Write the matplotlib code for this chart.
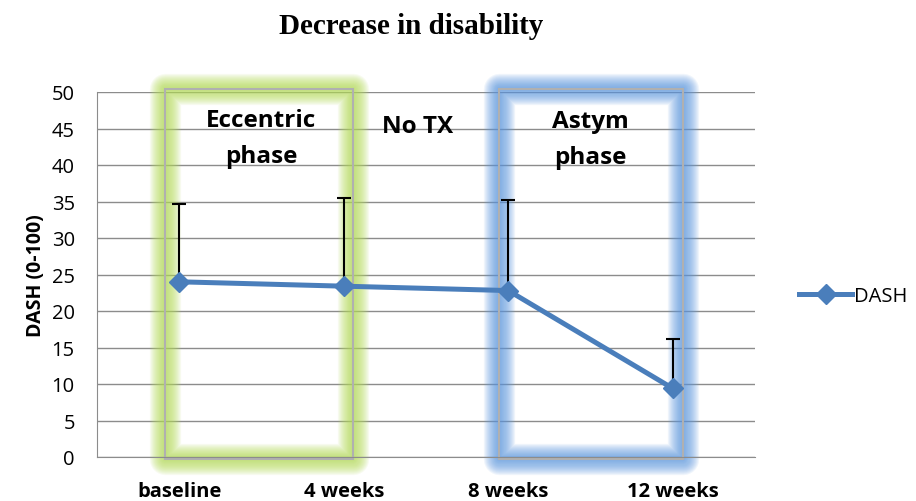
import matplotlib
matplotlib.use("Agg")
import matplotlib.pyplot as plt
from matplotlib.patches import Rectangle

categories = ["baseline", "4 weeks", "8 weeks", "12 weeks"]
dash_mean = [24.0, 23.4, 22.8, 9.4]
dash_err_upper = [10.7, 12.1, 12.4, 6.8]
phase_labels = ["Eccentric\nphase", "No TX", "Astym\nphase"]
yticks = list(range(0, 51, 5))

fig = plt.figure(figsize=(9.16, 5.02), dpi=100)
ax = fig.add_axes([97/916, 1-458/502, 658/916, 365/502])

body = ["Open Sans", "DejaVu Sans"]
x = list(range(len(categories)))

ax.set_xlim(-0.5, 3.5)
ax.set_ylim(0, 50)
ax.set_yticks(yticks)
ax.yaxis.grid(True, color="#8c8c8c", linewidth=1.0)
ax.set_axisbelow(True)
for s in ["top", "right"]:
    ax.spines[s].set_visible(False)
ax.spines["left"].set_color("#8c8c8c")
ax.spines["bottom"].set_color("#8c8c8c")
ax.tick_params(axis="y", length=0, pad=16, labelsize=14.5)
ax.tick_params(axis="x", length=0, pad=17, labelsize=14.5)
ax.set_xticks(x)
ax.set_xticklabels(categories, fontweight="bold", family=body)
for lab in ax.get_yticklabels():
    lab.set_family(body)
ax.set_ylabel("DASH (0-100)", fontweight="bold", fontsize=14, family=body, labelpad=4)

# glow boxes
def glow_box(x0, x1, y0, y1, color):
    for lw in range(30, 2, -2):
        r = Rectangle((x0, y0), x1 - x0, y1 - y0, fill=False, edgecolor=color,
                      linewidth=lw * 0.75, alpha=0.09, joinstyle="round", clip_on=False, zorder=1)
        ax.add_patch(r)
    ax.add_patch(Rectangle((x0, y0), x1 - x0, y1 - y0, fill=False, edgecolor="#b0b0b0",
                           linewidth=1.5, clip_on=False, zorder=2))

glow_box(-0.087, 1.056, -0.3, 50.4, "#b5dc5a")
glow_box(1.944, 3.06, -0.3, 50.4, "#5e9ae0")

ax.errorbar(x, dash_mean, yerr=[[0]*4, dash_err_upper], fmt="none", ecolor="black",
            elinewidth=1.5, capsize=5, capthick=1.5, zorder=3)
ax.plot(x, dash_mean, color="#4a7ebb", linewidth=3.6, marker="D", markersize=10,
        label="DASH", zorder=4)

ax.text(0.5, 43.7, phase_labels[0], ha="center", va="center", fontsize=17.5,
        fontweight="bold", family=body, linespacing=1.65)
ax.text(1.45, 45.3, phase_labels[1], ha="center", va="center", fontsize=17.5,
        fontweight="bold", family=body)
ax.text(2.5, 43.6, phase_labels[2], ha="center", va="center", fontsize=17.5,
        fontweight="bold", family=body, linespacing=1.65)

fig.suptitle("Decrease in disability", x=0.449, y=0.975, fontsize=21, fontweight="bold",
             family=["Liberation Serif", "DejaVu Serif"])

leg = ax.legend(loc="center left", bbox_to_anchor=(1.04, 0.44), frameon=False,
                prop={"family": body, "size": 14.5}, handlelength=2.6, handletextpad=0.1)

fig.savefig("out.png", dpi=100)
